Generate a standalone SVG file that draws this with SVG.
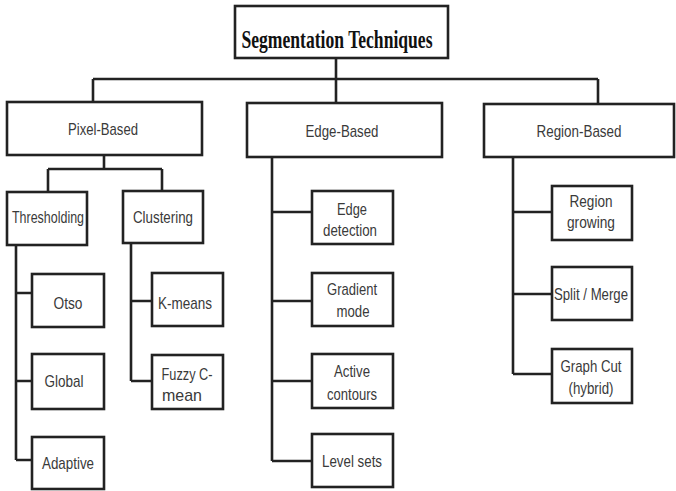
<svg xmlns="http://www.w3.org/2000/svg" width="676" height="491" viewBox="0 0 676 491">
<style>
.box{fill:#fff;stroke:#222;stroke-width:2.6}
.ln{fill:none;stroke:#222;stroke-width:2.6}
.t{font-family:"Liberation Sans",Arial,sans-serif;font-size:17px;fill:#3a3a3a;text-anchor:middle}
.title{font-family:"Liberation Serif","Times New Roman",serif;font-size:25px;font-weight:bold;fill:#111;text-anchor:middle}
</style>
<rect width="676" height="491" fill="#fff"/>
<g id="connectors">
<path class="ln" d="M336 58V103M93 79H598M93 79V102M598 79V104"/>
<path class="ln" d="M104 155V169M48 169H162M48 169V192M162 169V191"/>
<path class="ln" d="M16 245V460M16 293H32M16 381H32M16 460H32"/>
<path class="ln" d="M131 243V381M131 301H152M131 381H152"/>
<path class="ln" d="M272 157V461M272 212H312M272 301H312M272 381H312M272 461H312"/>
<path class="ln" d="M513 157V374M513 212H552M513 294H552M513 374H552"/>
</g>
<g id="title"><rect class="box" x="235" y="6" width="213" height="52"/><text class="title" x="337" y="48" textLength="191" lengthAdjust="spacingAndGlyphs">Segmentation Techniques</text></g>
<g id="pixel"><rect class="box" x="7" y="102" width="195" height="53"/><text class="t" x="103" y="135" textLength="70" lengthAdjust="spacingAndGlyphs">Pixel-Based</text></g>
<g id="edge"><rect class="box" x="247" y="103" width="195" height="54"/><text class="t" x="342" y="137" textLength="73" lengthAdjust="spacingAndGlyphs">Edge-Based</text></g>
<g id="region"><rect class="box" x="484" y="104" width="190" height="53"/><text class="t" x="579" y="137" textLength="85" lengthAdjust="spacingAndGlyphs">Region-Based</text></g>
<g id="thresholding"><rect class="box" x="7" y="192" width="80" height="53"/><text class="t" x="48" y="223" textLength="72" lengthAdjust="spacingAndGlyphs">Thresholding</text></g>
<g id="clustering"><rect class="box" x="123" y="191" width="80" height="52"/><text class="t" x="163" y="223" textLength="60" lengthAdjust="spacingAndGlyphs">Clustering</text></g>
<g id="otso"><rect class="box" x="32" y="274" width="72" height="53"/><text class="t" x="68" y="309" textLength="29" lengthAdjust="spacingAndGlyphs">Otso</text></g>
<g id="global"><rect class="box" x="32" y="354" width="72" height="55"/><text class="t" x="64" y="387" textLength="39" lengthAdjust="spacingAndGlyphs">Global</text></g>
<g id="adaptive"><rect class="box" x="32" y="437" width="72" height="52"/><text class="t" x="68" y="469" textLength="52" lengthAdjust="spacingAndGlyphs">Adaptive</text></g>
<g id="kmeans"><rect class="box" x="152" y="273" width="71" height="53"/><text class="t" x="185" y="309" textLength="54" lengthAdjust="spacingAndGlyphs">K-means</text></g>
<g id="fuzzy"><rect class="box" x="152" y="355" width="71" height="54"/><text class="t" x="187" y="380" textLength="51" lengthAdjust="spacingAndGlyphs">Fuzzy C-</text><text class="t" x="182" y="401" textLength="40" lengthAdjust="spacingAndGlyphs">mean</text></g>
<g id="edgedetection"><rect class="box" x="312" y="191" width="81" height="53"/><text class="t" x="352" y="215" textLength="30" lengthAdjust="spacingAndGlyphs">Edge</text><text class="t" x="350" y="236" textLength="54" lengthAdjust="spacingAndGlyphs">detection</text></g>
<g id="gradient"><rect class="box" x="312" y="273" width="81" height="53"/><text class="t" x="352" y="295" textLength="50" lengthAdjust="spacingAndGlyphs">Gradient</text><text class="t" x="353" y="317" textLength="33" lengthAdjust="spacingAndGlyphs">mode</text></g>
<g id="active"><rect class="box" x="312" y="354" width="81" height="54"/><text class="t" x="352" y="377" textLength="36" lengthAdjust="spacingAndGlyphs">Active</text><text class="t" x="352" y="400" textLength="50" lengthAdjust="spacingAndGlyphs">contours</text></g>
<g id="levelsets"><rect class="box" x="312" y="434" width="81" height="53"/><text class="t" x="352" y="467" textLength="60" lengthAdjust="spacingAndGlyphs">Level sets</text></g>
<g id="regiongrowing"><rect class="box" x="552" y="186" width="80" height="54"/><text class="t" x="591" y="207" textLength="43" lengthAdjust="spacingAndGlyphs">Region</text><text class="t" x="591" y="228" textLength="48" lengthAdjust="spacingAndGlyphs">growing</text></g>
<g id="split"><rect class="box" x="552" y="267" width="80" height="53"/><text class="t" x="591" y="300" textLength="74" lengthAdjust="spacingAndGlyphs">Split / Merge</text></g>
<g id="graphcut"><rect class="box" x="552" y="349" width="80" height="54"/><text class="t" x="591" y="372" textLength="61" lengthAdjust="spacingAndGlyphs">Graph Cut</text><text class="t" x="591" y="394" textLength="45" lengthAdjust="spacingAndGlyphs">(hybrid)</text></g>
</svg>
